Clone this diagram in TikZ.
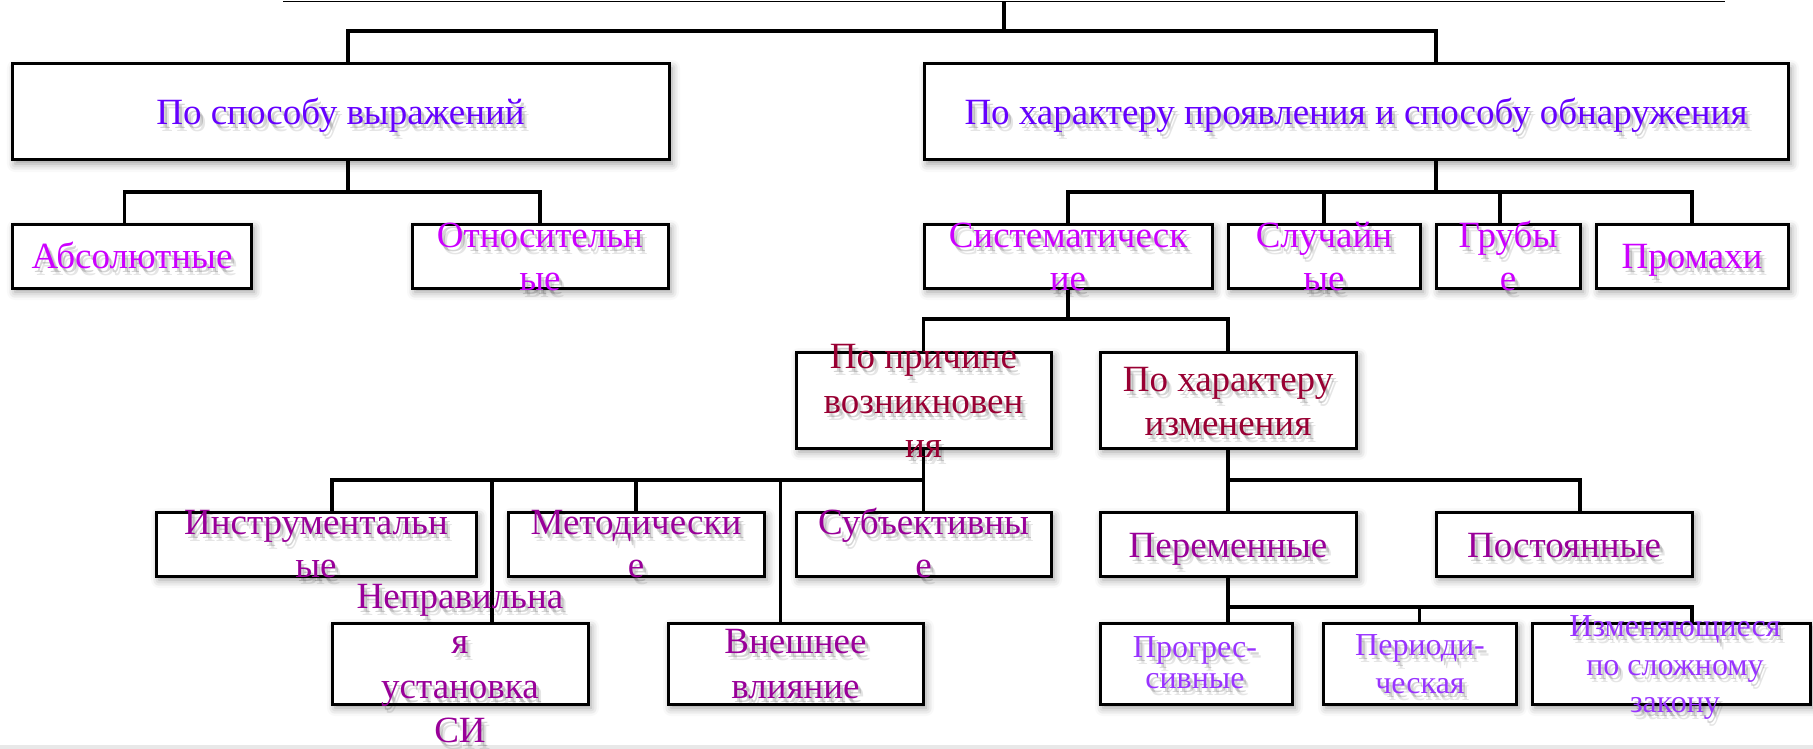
\documentclass[tikz,border=0pt]{standalone}
\usepackage{fontspec}
\setmainfont{Liberation Serif}
\usetikzlibrary{shadows.blur}
\definecolor{cA}{RGB}{102,0,255}
\definecolor{cB}{RGB}{204,0,255}
\definecolor{cC}{RGB}{153,0,51}
\definecolor{cD}{RGB}{153,0,153}
\definecolor{cE}{RGB}{153,51,255}
\newcommand\Bx[5]{\node[box, minimum width={#4-#2}, minimum height={#5-#3}] (#1) at ({(#2+#4)/2},{(#3+#5)/2}) {};}
\newcommand\Sh[1]{%
 \rlap{\pgfsetfillopacity{0.10}\color{black}\kern5pt\raisebox{-7pt}{#1}}%
 \rlap{\pgfsetfillopacity{0.17}\color{black}\kern3pt\raisebox{-4pt}{#1}}%
 \pgfsetfillopacity{1}#1}
\newcommand\Tl[5]{\node[ln,#4] (#1) at (#2,#3) {\Sh{#5}};}
\tikzset{
 box/.style={draw, line width=3pt, fill=white, inner sep=0pt,
   blur shadow={shadow xshift=3pt, shadow yshift=-4pt, shadow blur radius=8pt, shadow opacity=40}},
 conn/.style={line width=3.5pt},
 thinline/.style={line width=1.5pt},
 ln/.style={anchor=base, inner sep=0pt},
 fA/.style={text=cA, font=\fontsize{37}{44}\selectfont},
 fB/.style={text=cB, font=\fontsize{37}{44}\selectfont},
 fC/.style={text=cC, font=\fontsize{37}{44}\selectfont},
 fD/.style={text=cD, font=\fontsize{37}{44}\selectfont},
 fE/.style={text=cE, font=\fontsize{32}{38}\selectfont},
}
\begin{document}
\begin{tikzpicture}[x=1pt, y=-1pt]
\useasboundingbox (0,0) rectangle (1813,749);
\fill[black!9] (0,745) rectangle (1813,749);
% boxes
\Bx{A}{12}{64}{669}{160}
\Bx{B}{924}{64}{1788}{160}
\Bx{Abs}{12}{224}{251}{288}
\Bx{Otn}{412}{224}{668}{288}
\Bx{Sist}{924}{224}{1212}{288}
\Bx{Sluch}{1228}{224}{1420}{288}
\Bx{Grub}{1436}{224}{1580}{288}
\Bx{Prom}{1596}{224}{1788}{288}
\Bx{Prich}{796}{352}{1051}{448}
\Bx{HarIzm}{1100}{352}{1356}{448}
\Bx{Instr}{156}{512}{476}{576}
\Bx{Metod}{508}{512}{764}{576}
\Bx{Subj}{796}{512}{1051}{576}
\Bx{Perem}{1100}{512}{1356}{576}
\Bx{Post}{1436}{512}{1692}{576}
\Bx{Neprav}{332}{623}{588}{704}
\Bx{Vnesh}{668}{623}{923}{704}
\Bx{Progr}{1100}{623}{1292}{704}
\Bx{Period}{1323}{623}{1516}{704}
\Bx{Izm}{1532}{623}{1810}{704}
% junctions
\coordinate (tl) at (283,1.5);
\coordinate (tr) at (1725,1.5);
\coordinate (top) at (1004,1.5);
\coordinate (j0) at (1004,31);
\coordinate (jA) at (348,192);
\coordinate (jB) at (1436,192);
\coordinate (jS) at (1068,319);
\coordinate (jP) at (924,480);
\coordinate (jH) at (1228,480);
\coordinate (jV) at (1228,607);
% connectors
\draw[thinline] (tl) -- (tr);
\draw[conn] (top) -- (j0);
\draw[conn] ([xshift=7.5pt]A.north) |- (j0);
\draw[conn] ([xshift=80pt]B.north) |- (j0);
\draw[conn] ([xshift=7.5pt]A.south) -- (jA);
\draw[conn] ([xshift=-7pt]Abs.north) |- (jA);
\draw[conn] (Otn.north) |- (jA);
\draw[conn] ([xshift=80pt]B.south) -- (jB);
\draw[conn] (Sist.north) |- (jB);
\draw[conn] (Sluch.north) |- (jB);
\draw[conn] ([xshift=-8pt]Grub.north) |- (jB);
\draw[conn] (Prom.north) |- (jB);
\draw[conn] (Sist.south) -- (jS);
\draw[conn] (Prich.north) |- (jS);
\draw[conn] (HarIzm.north) |- (jS);
\draw[conn] (Prich.south) -- (Subj.north);
\draw[conn] ([xshift=16pt]Instr.north) |- (jP);
\draw[conn] ([xshift=32pt]Neprav.north) |- (jP);
\draw[conn] (Metod.north) |- (jP);
\draw[conn] ([xshift=-15pt]Vnesh.north) |- (jP);
\draw[conn] (HarIzm.south) -- (Perem.north);
\draw[conn] ([xshift=16pt]Post.north) |- (jH);
\draw[conn] (Perem.south) -- ([xshift=32pt]Progr.north);
\draw[conn] (Period.north) |- (jV);
\draw[conn] ([xshift=21pt]Izm.north) |- (jV);
% texts
\Tl{tA}{340.5}{125}{fA}{По способу выражений}
\Tl{tB}{1356}{125}{fA}{По характеру проявления и способу обнаружения}
\Tl{tAbs}{132}{268}{fB}{Абсолютные}
\Tl{tOtnA}{540}{247}{fB}{Относительн}
\Tl{tOtnB}{540}{290}{fB}{ые}
\Tl{tSisA}{1068}{247}{fB}{Систематическ}
\Tl{tSisB}{1068}{290}{fB}{ие}
\Tl{tSlA}{1324}{247}{fB}{Случайн}
\Tl{tSlB}{1324}{290}{fB}{ые}
\Tl{tGrA}{1508}{247}{fB}{Грубы}
\Tl{tGrB}{1508}{290}{fB}{е}
\Tl{tPr}{1692}{268}{fB}{Промахи}
\Tl{tPcA}{923.5}{368}{fC}{По причине}
\Tl{tPcB}{923.5}{413}{fC}{возникновен}
\Tl{tPcC}{923.5}{457}{fC}{ия}
\Tl{tHiA}{1228}{391}{fC}{По характеру}
\Tl{tHiB}{1228}{435}{fC}{изменения}
\Tl{tInA}{316}{534}{fD}{Инструментальн}
\Tl{tInB}{316}{577}{fD}{ые}
\Tl{tMeA}{636}{534}{fD}{Методически}
\Tl{tMeB}{636}{577}{fD}{е}
\Tl{tSuA}{923.5}{534}{fD}{Субъективны}
\Tl{tSuB}{923.5}{577}{fD}{е}
\Tl{tNeA}{460}{608}{fD}{Неправильна}
\Tl{tNeB}{460}{653}{fD}{я}
\Tl{tNeC}{460}{698}{fD}{установка}
\Tl{tNeD}{460}{742}{fD}{СИ}
\Tl{tVnA}{795.5}{653}{fD}{Внешнее}
\Tl{tVnB}{795.5}{698}{fD}{влияние}
\Tl{tPe}{1228}{557}{fD}{Переменные}
\Tl{tPo}{1564}{557}{fD}{Постоянные}
\Tl{tPgA}{1195}{657}{fE}{Прогрес-}
\Tl{tPgB}{1195}{688}{fE}{сивные}
\Tl{tPdA}{1420}{655}{fE}{Периоди-}
\Tl{tPdB}{1420}{693}{fE}{ческая}
\Tl{tIzA}{1675}{636}{fE}{Изменяющиеся}
\Tl{tIzB}{1675}{675}{fE}{по сложному}
\Tl{tIzC}{1675}{712}{fE}{закону}
\end{tikzpicture}
\end{document}
